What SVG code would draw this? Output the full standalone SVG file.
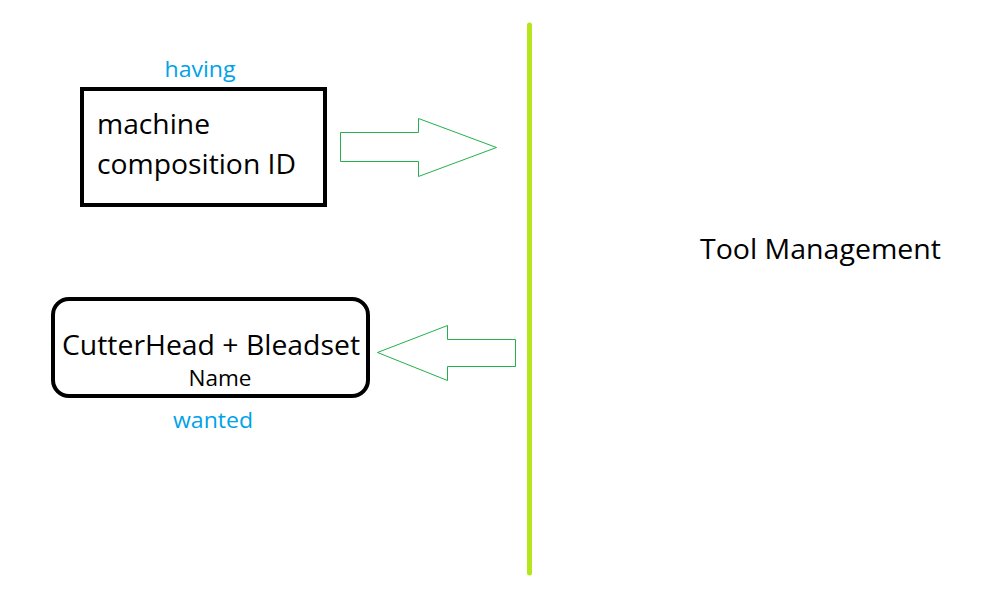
<svg xmlns="http://www.w3.org/2000/svg" width="988" height="601" viewBox="0 0 988 601">
<style>
.t{font-family:"Open Sans","Noto Sans","Liberation Sans",sans-serif;fill:#000}
.b{font-family:"Open Sans","Noto Sans","Liberation Sans",sans-serif;fill:#00a2e8}
.box{fill:#fff;stroke:#000;stroke-width:4}
.arr{fill:#fff;stroke:#22b14c;stroke-width:1}
</style>
<rect width="988" height="601" fill="#fff"/>
<g id="connectors">
<polygon class="arr" points="340.5,132.5 418.5,132.5 418.5,118.5 496.5,147.5 418.5,176.5 418.5,161.5 340.5,161.5"/>
<polygon class="arr" points="515.5,339.5 447.5,339.5 447.5,325.5 377.5,352.5 447.5,380.5 447.5,366.5 515.5,366.5"/>
</g>
<g id="divider">
<line x1="529.5" y1="25" x2="529.5" y2="573" stroke="#b5e61d" stroke-width="5" stroke-linecap="round"/>
</g>
<g id="node-machine">
<text class="b" x="200" y="77" font-size="22" text-anchor="middle" textLength="71" lengthAdjust="spacingAndGlyphs">having</text>
<rect class="box" x="82" y="89" width="243" height="116"/>
<text class="t" x="97" y="134" font-size="27" textLength="113" lengthAdjust="spacingAndGlyphs">machine</text>
<text class="t" x="97" y="174" font-size="27" textLength="199" lengthAdjust="spacingAndGlyphs">composition ID</text>
</g>
<g id="node-cutterhead">
<rect class="box" x="53" y="299" width="315" height="97" rx="16"/>
<text class="t" x="62" y="355" font-size="27" textLength="298" lengthAdjust="spacingAndGlyphs">CutterHead + Bleadset</text>
<text class="t" x="220" y="386" font-size="21" text-anchor="middle" textLength="63" lengthAdjust="spacingAndGlyphs">Name</text>
<text class="b" x="213" y="428" font-size="22" text-anchor="middle" textLength="80" lengthAdjust="spacingAndGlyphs">wanted</text>
</g>
<g id="node-tool">
<text class="t" x="700" y="259" font-size="27" textLength="241" lengthAdjust="spacingAndGlyphs">Tool Management</text>
</g>
</svg>
